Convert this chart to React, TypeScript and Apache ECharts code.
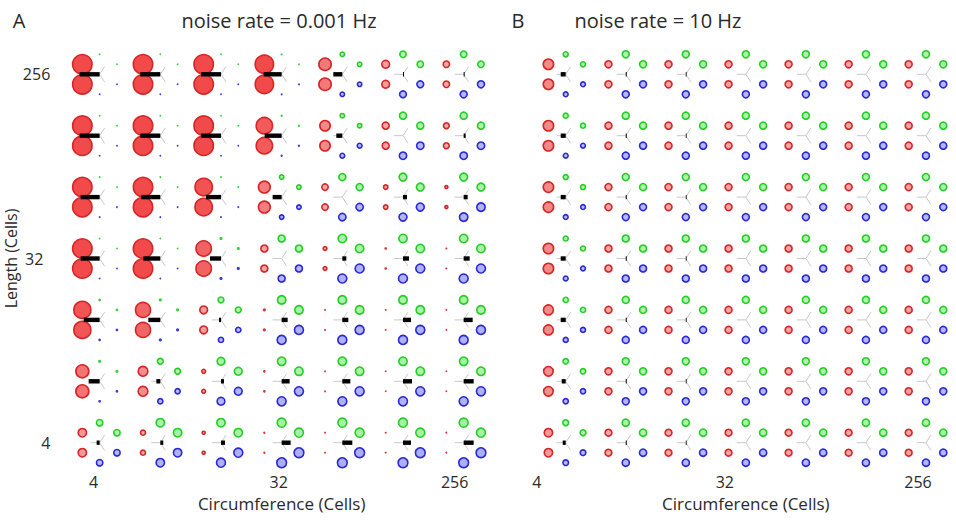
import React, { useEffect, useRef } from "react";
import * as echarts from "echarts";

const circumferenceCells = ["4", "8", "16", "32", "64", "128", "256"];
const lengthCells = ["4", "8", "16", "32", "64", "128", "256"]; // bottom -> top
const shownTicks = ["4", "32", "256"];

// Panel A: noise rate 0.001 Hz. Rows: length 256 (top) ... 4 (bottom); columns: circumference 4 ... 256
const redA = [
  [10.5, 10.5, 10.5, 10, 7, 4.7, 4],
  [10.5, 10.5, 10.5, 9, 6, 4.3, 3.7],
  [10.5, 10.5, 9.5, 6.7, 4, 3, 2.3],
  [10.5, 10.5, 8.5, 4.3, 2.7, 1.7, 1.3],
  [9.3, 8.3, 4.7, 2, 1.3, 1, 0.9],
  [7.3, 5.7, 2.7, 1.7, 1.2, 1, 1],
  [5, 3.3, 2.3, 1.5, 1.3, 1.3, 1.2],
];
const greenA = [
  [1, 1, 1, 1.2, 3, 4, 4],
  [1, 1, 1, 1.5, 3, 4.3, 4.3],
  [1, 1, 1.3, 3, 4.3, 4.7, 4.7],
  [1, 1, 2, 4.3, 5, 5, 5],
  [1.7, 2, 3.7, 5, 5, 5, 5],
  [2, 3.7, 4.7, 5, 5, 5, 5],
  [4, 5, 5, 5.3, 5.3, 5.3, 5.3],
];
const blueA = [
  [1, 1, 1, 1.2, 3, 4.2, 4.3],
  [1, 1, 1, 1.5, 3.2, 4.5, 4.5],
  [1, 1, 1.3, 3, 4.5, 4.8, 5],
  [1, 1, 2, 4.3, 5.3, 5.3, 5.3],
  [1.7, 2, 3.4, 5.3, 5.3, 5.3, 5.3],
  [1.7, 3.4, 4.7, 5.3, 5.3, 5.3, 5.3],
  [4, 5, 5.3, 5.7, 5.7, 5.7, 5.7],
];
// signed bar: negative points left (towards red), positive points right
const barA = [
  [-20, -20, -20, -18, -9, 1, 1],
  [-20, -20, -20, -17, -6, 0, 2],
  [-19, -19, -15, -9, 0, 4, 4],
  [-19, -17, -11, 0, 4, 6, 6],
  [-16, -12, -2, 6, 6, 8, 9],
  [-11, -4, 3, 8, 8, 9, 10],
  [-3, 3, 4, 9, 10, 8, 10],
];

// Panel B: noise rate 10 Hz
const redB = [
  [6, 4.3, 4.3, 4.3, 4.3, 4.3, 4.3],
  [6, 4.3, 4.3, 4.3, 4.3, 4.3, 4.3],
  [6, 4.3, 4.3, 4.3, 4.3, 4.3, 4.3],
  [6, 4.3, 4.3, 4.3, 4.3, 4.3, 4.3],
  [5.8, 4.3, 4.3, 4.3, 4.3, 4.3, 4.3],
  [5.6, 4.3, 4.3, 4.3, 4.3, 4.3, 4.3],
  [5, 4.2, 4.2, 4.2, 4.2, 4.2, 4.2],
];
const greenB = [
  [3.3, 4.3, 4.3, 4.3, 4.3, 4.3, 4.3],
  [3.3, 4.3, 4.3, 4.3, 4.3, 4.3, 4.3],
  [3.3, 4.3, 4.3, 4.3, 4.3, 4.3, 4.3],
  [3.3, 4.3, 4.3, 4.3, 4.3, 4.3, 4.3],
  [3.4, 4.3, 4.3, 4.3, 4.3, 4.3, 4.3],
  [3.5, 4.3, 4.3, 4.3, 4.3, 4.3, 4.3],
  [3.7, 4.4, 4.4, 4.4, 4.4, 4.4, 4.4],
];
const blueB = [
  [3.2, 4.3, 4.3, 4.3, 4.3, 4.3, 4.3],
  [3.2, 4.3, 4.3, 4.3, 4.3, 4.3, 4.3],
  [3.2, 4.3, 4.3, 4.3, 4.3, 4.3, 4.3],
  [3.2, 4.3, 4.3, 4.3, 4.3, 4.3, 4.3],
  [3.3, 4.3, 4.3, 4.3, 4.3, 4.3, 4.3],
  [3.4, 4.3, 4.3, 4.3, 4.3, 4.3, 4.3],
  [3.6, 4.4, 4.4, 4.4, 4.4, 4.4, 4.4],
];
const barB = [
  [-5, 1, 0.8, 0, 0, 0, 0],
  [-5, 1, 0.8, 0, 0, 0, 0],
  [-5, 1, 0.8, 0, 0, 0, 0],
  [-5, 1, 0.8, 0, 0, 0, 0],
  [-5, 1, 0.8, 0, 0, 0, 0],
  [-4, 1, 0.8, 0, 0, 0, 0],
  [-3, 1, 0.8, 0, 0, 0, 0],
];

const FONT = "'Open Sans', 'Noto Sans', sans-serif";
const TEXT = "#2a2a2a";

function buildData(red: number[][], green: number[][], blue: number[][], bar: number[][]) {
  const out: number[][] = [];
  const n = lengthCells.length;
  for (let r = 0; r < n; r++) {
    for (let c = 0; c < circumferenceCells.length; c++) {
      out.push([c, n - 1 - r, red[r][c], green[r][c], blue[r][c], bar[r][c]]);
    }
  }
  return out;
}

// light (small circle) and strong (large circle) fills
const RED = { light: [245, 168, 168], strong: [242, 74, 74], stroke: "#d42626" };
const GREEN = { light: [176, 246, 176], strong: [120, 232, 120], stroke: "#26cc26" };
const BLUE = { light: [184, 186, 246], strong: [140, 146, 240], stroke: "#2828d6" };

function mix(col: any, v: number) {
  const t = Math.min(Math.max((v - 4) / 6, 0), 1);
  const c = col.light.map((l: number, i: number) => Math.round(l + (col.strong[i] - l) * t));
  return `rgb(${c[0]},${c[1]},${c[2]})`;
}

function renderGlyph(_params: any, api: any) {
  const pt = api.coord([api.value(0), api.value(1)]);
  const cx = pt[0];
  const cy = pt[1];
  const red = api.value(2);
  const green = api.value(3);
  const blue = api.value(4);
  const bar = api.value(5);
  const R = 20;
  const dx = 17.3;
  const dy = 10;
  const circ = (x: number, y: number, v: number, col: any) =>
    v < 2.2
      ? {
          type: "circle",
          shape: { cx: x, cy: y, r: Math.max(v * 0.8, 0.9) },
          style: { fill: col.stroke, opacity: 0.9 },
        }
      : {
          type: "circle",
          shape: { cx: x, cy: y, r: v - 0.8 },
          style: { fill: mix(col, v), stroke: col.stroke, lineWidth: 1.6 },
        };
  const L = 9;
  const gray = { stroke: "#c8c8c8", lineWidth: 1 };
  const children: any[] = [
    circ(cx - dx, cy - dy, red, RED),
    circ(cx - dx, cy + dy, red, RED),
    circ(cx, cy - R, green, GREEN),
    circ(cx + dx, cy - dy, green, GREEN),
    circ(cx + dx, cy + dy, blue, BLUE),
    circ(cx, cy + R, blue, BLUE),
    { type: "line", shape: { x1: cx, y1: cy, x2: cx - L, y2: cy }, style: gray },
    { type: "line", shape: { x1: cx, y1: cy, x2: cx + L * 0.55, y2: cy - L * 0.85 }, style: gray },
    { type: "line", shape: { x1: cx, y1: cy, x2: cx + L * 0.55, y2: cy + L * 0.85 }, style: gray },
  ];
  if (bar !== 0) {
    const w = Math.abs(bar);
    children.push({
      type: "rect",
      shape: { x: bar < 0 ? cx - w : cx, y: cy - 2.2, width: w, height: 4.4 },
      style: { fill: "#000" },
    });
  }
  return { type: "group", children };
}

const labelStyle = { fontSize: 16, color: TEXT, fontFamily: FONT };

function makeX(gridIndex: number, shifts: Record<string, number>, prefix: string) {
  const rich: any = {};
  Object.keys(shifts).forEach((k) => {
    rich[prefix + k] = { ...labelStyle, padding: [0, shifts[k] * 2, 0, 0] };
  });
  return {
    type: "category",
    gridIndex,
    data: circumferenceCells,
    boundaryGap: true,
    axisLine: { show: false },
    axisTick: { show: false },
    splitLine: { show: false },
    axisLabel: {
      ...labelStyle,
      margin: 1,
      interval: (_i: number, v: string) => shownTicks.includes(v),
      formatter: (v: string) => `{${prefix}${v}|${v}}`,
      rich,
    },
    name: "Circumference (Cells)",
    nameLocation: "middle",
    nameGap: 22,
    nameTextStyle: { fontSize: 17, color: TEXT, fontFamily: FONT },
  };
}

function makeY(gridIndex: number, show: boolean) {
  return {
    type: "category",
    gridIndex,
    data: lengthCells,
    boundaryGap: true,
    axisLine: { show: false },
    axisTick: { show: false },
    splitLine: { show: false },
    axisLabel: {
      show,
      ...labelStyle,
      margin: 19,
      interval: (_i: number, v: string) => shownTicks.includes(v),
      formatter: (v: string) => `{y${v}|${v}}`,
      rich: {
        y4: { ...labelStyle, padding: [0, 0, 0, 0] },
        y32: { ...labelStyle, padding: [0, 7, 0, 0] },
        y256: { ...labelStyle, padding: [0, 0, 0, 0] },
      },
    },
    name: show ? "Length (Cells)" : "",
    nameLocation: "middle",
    nameGap: 39,
    nameTextStyle: { fontSize: 16, color: TEXT, fontFamily: FONT },
  };
}

export default function App() {
  const ref = useRef<HTMLDivElement>(null);
  useEffect(() => {
    if (!ref.current) return;
    const chart = echarts.init(ref.current, undefined, { renderer: "svg" });
    const option: any = {
      animation: false,
      backgroundColor: "#ffffff",
      grid: [
        { left: 69.3, top: 43.6, width: 424.7, height: 429.8 },
        { left: 535.7, top: 43.6, width: 424.7, height: 429.8 },
      ],
      xAxis: [makeX(0, { "4": 6, "32": 3, "256": 9 }, "a"), makeX(1, { "4": 29, "32": 21, "256": 8 }, "b")],
      yAxis: [makeY(0, true), makeY(1, false)],
      graphic: [
        { type: "text", x: 19, y: 20, style: { text: "A", fontSize: 20, fill: TEXT, fontFamily: FONT, textAlign: "center", textVerticalAlign: "middle" } },
        { type: "text", x: 518, y: 20, style: { text: "B", fontSize: 20, fill: TEXT, fontFamily: FONT, textAlign: "center", textVerticalAlign: "middle" } },
        { type: "text", x: 279, y: 20, style: { text: "noise rate = 0.001 Hz", fontSize: 20, fill: TEXT, fontFamily: FONT, textAlign: "center", textVerticalAlign: "middle" } },
        { type: "text", x: 658, y: 20, style: { text: "noise rate = 10 Hz", fontSize: 20, fill: TEXT, fontFamily: FONT, textAlign: "center", textVerticalAlign: "middle" } },
      ],
      series: [
        {
          type: "custom",
          xAxisIndex: 0,
          yAxisIndex: 0,
          clip: false,
          encode: { x: 0, y: 1 },
          renderItem: renderGlyph,
          data: buildData(redA, greenA, blueA, barA),
        },
        {
          type: "custom",
          xAxisIndex: 1,
          yAxisIndex: 1,
          clip: false,
          encode: { x: 0, y: 1 },
          renderItem: renderGlyph,
          data: buildData(redB, greenB, blueB, barB),
        },
      ],
    };
    chart.setOption(option);
    return () => chart.dispose();
  }, []);
  return (
    <div
      ref={ref}
      style={{ position: "fixed", left: 0, top: 0, width: 956, height: 527, background: "#fff" }}
    />
  );
}
